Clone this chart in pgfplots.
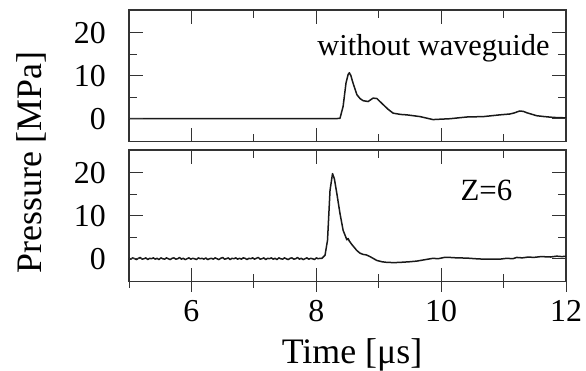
\documentclass[border=0pt]{standalone}
\usepackage{fontspec}
\setmainfont{Liberation Serif}
\usepackage{pgfplots}
\pgfplotsset{compat=1.18}
\tikzset{tk/.style={line width=1bp, black!80}}
\pgfplotsset{
  panel/.style={
    width=437bp, height=131.5bp, scale only axis,
    xmin=5, xmax=12, ymin=-5.3, ymax=25.3,
    xtick={6,8,10,12}, ytick={0,10,20},
    major tick style={draw=none},
    axis line style={line width=1.1bp, black!80},
    tick label style={font=\fontsize{32}{38}\selectfont, /pgf/number format/assume math mode=true},
    yticklabel style={inner sep=0pt, xshift=-23bp},
    xticklabel style={inner sep=0pt, yshift=-19bp},
    clip=false,
  },
  curve/.style={line width=1.5bp, black!90, line join=round}
}
\begin{document}
\begin{tikzpicture}
\path[use as bounding box] (0bp,0bp) rectangle (586bp,-371bp);
% top panel: without waveguide
\begin{axis}[panel, at={(129bp,-10bp)}, anchor=north west, xticklabels={}]
\addplot[curve] coordinates {
(5.00,0.0) (6.00,0.0) (7.00,0.0) (8.00,0.0) (8.30,0.0) (8.38,0.1)
(8.43,2.9) (8.476,8.3) (8.51,10.3) (8.53,10.7) (8.555,10.0) (8.58,8.7)
(8.65,5.6) (8.70,4.7) (8.75,4.2) (8.83,4.0) (8.91,4.8) (8.97,4.7)
(9.02,4.0) (9.07,3.3) (9.15,2.2) (9.23,1.3) (9.35,1.0) (9.45,0.9)
(9.66,0.5) (9.78,0.1) (9.87,-0.2) (10.00,-0.1) (10.14,0.0) (10.41,0.4)
(10.68,0.5) (10.94,0.9) (11.10,1.1) (11.16,1.3) (11.26,1.8) (11.32,1.7)
(11.37,1.4) (11.53,0.7) (11.65,0.5) (11.80,0.3) (12.00,0.2)
};
\pgfplotsinvokeforeach{6,8,10,12}{\draw[tk] (axis cs:#1,25.3) -- ++(0bp,-14bp); \draw[tk] (axis cs:#1,-5.3) -- ++(0bp,14bp);}
\pgfplotsinvokeforeach{7,9,11}{\draw[tk] (axis cs:#1,25.3) -- ++(0bp,-7.5bp); \draw[tk] (axis cs:#1,-5.3) -- ++(0bp,7.5bp);}
\pgfplotsinvokeforeach{0,10,20}{\draw[tk] (axis cs:5,#1) -- ++(14bp,0bp); \draw[tk] (axis cs:12,#1) -- ++(-14bp,0bp);}
\pgfplotsinvokeforeach{5,15}{\draw[tk] (axis cs:5,#1) -- ++(8bp,0bp); \draw[tk] (axis cs:12,#1) -- ++(-8bp,0bp);}
\end{axis}
\node[anchor=base east, font=\fontsize{30.5}{36}\selectfont] at (553bp,-55bp) {without waveguide};
% bottom panel: Z=6
\begin{axis}[panel, at={(129bp,-150bp)}, anchor=north west]
\addplot[curve] coordinates {
(5.00,0.1) (5.03,-0.1) (5.06,0.2) (5.09,0.0) (5.12,-0.2) (5.15,0.1) (5.18,0.3)
(5.21,-0.1) (5.24,0.0) (5.27,0.2) (5.30,-0.2) (5.33,0.1) (5.36,0.0) (5.39,0.2)
(5.42,-0.1) (5.45,0.1) (5.48,-0.2) (5.51,0.2) (5.54,0.0) (5.57,-0.1) (5.60,0.2)
(5.63,0.0) (5.66,-0.2) (5.69,0.1) (5.72,0.2) (5.75,-0.1) (5.78,0.0) (5.81,0.3)
(5.84,-0.1) (5.87,0.1) (5.90,-0.2) (5.93,0.0) (5.96,0.2) (5.99,-0.1) (6.02,0.1)
(6.05,0.0) (6.08,-0.2) (6.11,0.2) (6.14,0.0) (6.17,0.1) (6.20,-0.1) (6.23,0.2)
(6.26,-0.2) (6.29,0.0) (6.32,0.1) (6.35,-0.1) (6.38,0.2) (6.41,0.0) (6.44,-0.2)
(6.47,0.1) (6.50,0.3) (6.53,-0.1) (6.56,0.0) (6.59,0.2) (6.62,-0.2) (6.65,0.1)
(6.68,0.0) (6.71,0.2) (6.74,-0.1) (6.77,0.1) (6.80,-0.1) (6.83,0.2) (6.86,0.1)
(6.89,-0.2) (6.92,0.1) (6.95,0.0) (6.98,0.2) (7.01,-0.1) (7.04,0.1) (7.07,0.3)
(7.10,-0.1) (7.13,0.0) (7.16,0.2) (7.19,-0.2) (7.22,0.1) (7.25,0.0) (7.28,0.2)
(7.31,-0.1) (7.34,0.1) (7.37,-0.2) (7.40,0.2) (7.43,0.0) (7.46,-0.1) (7.49,0.2)
(7.52,0.0) (7.55,-0.2) (7.58,0.1) (7.61,0.2) (7.64,-0.1) (7.67,0.0) (7.70,0.3)
(7.73,-0.1) (7.76,0.1) (7.79,-0.2) (7.82,0.0) (7.85,0.2) (7.88,-0.1) (7.91,0.1)
(7.94,0.0) (7.97,-0.2) (8.00,0.2) (8.03,0.0) (8.06,0.1) (8.09,0.1)
(8.14,0.8) (8.18,4.3) (8.22,15.9) (8.26,19.8) (8.29,18.6) (8.33,15.1)
(8.38,10.5) (8.43,6.6) (8.49,4.4) (8.51,4.7) (8.53,4.1) (8.57,3.3) (8.65,1.9)
(8.70,1.3) (8.75,1.0) (8.80,0.9) (8.86,0.5) (8.92,0.0) (8.97,-0.4) (9.05,-0.7)
(9.13,-0.85) (9.25,-0.9) (9.34,-0.85) (9.50,-0.7) (9.61,-0.55) (9.75,-0.2)
(9.87,0.1) (9.95,0.0) (10.05,0.3) (10.14,0.3) (10.25,0.2) (10.41,0.15)
(10.55,0.0) (10.68,-0.1) (10.80,-0.1) (10.94,-0.1) (11.05,0.1) (11.15,0.0)
(11.21,0.3) (11.30,0.2) (11.40,0.4) (11.48,0.3) (11.60,0.5) (11.75,0.4)
(11.85,0.6) (11.93,0.5) (12.00,0.55)
};
\pgfplotsinvokeforeach{6,8,10,12}{\draw[tk] (axis cs:#1,25.3) -- ++(0bp,-14bp); \draw[tk] (axis cs:#1,-5.3) ++(0bp,-10bp) -- ++(0bp,24bp);}
\pgfplotsinvokeforeach{7,9,11}{\draw[tk] (axis cs:#1,25.3) -- ++(0bp,-7.5bp); \draw[tk] (axis cs:#1,-5.3) ++(0bp,-6bp) -- ++(0bp,14bp);}
\draw[tk] (axis cs:5,-5.3) -- ++(0bp,-6bp);
\pgfplotsinvokeforeach{0,10,20}{\draw[tk] (axis cs:5,#1) -- ++(14bp,0bp); \draw[tk] (axis cs:12,#1) -- ++(-14bp,0bp);}
\pgfplotsinvokeforeach{5,15}{\draw[tk] (axis cs:5,#1) -- ++(8bp,0bp); \draw[tk] (axis cs:12,#1) -- ++(-8bp,0bp);}
\end{axis}
\node[anchor=base west, font=\fontsize{31}{37}\selectfont] at (457bp,-200bp) {Z=6};
\node[anchor=base, font=\fontsize{36}{43}\selectfont] at (352bp,-363bp) {Time [μs]};
\node[anchor=base, rotate=90, font=\fontsize{36}{43}\selectfont] at (41.7bp,-162.5bp) {Pressure [MPa]};
\end{tikzpicture}
\end{document}
